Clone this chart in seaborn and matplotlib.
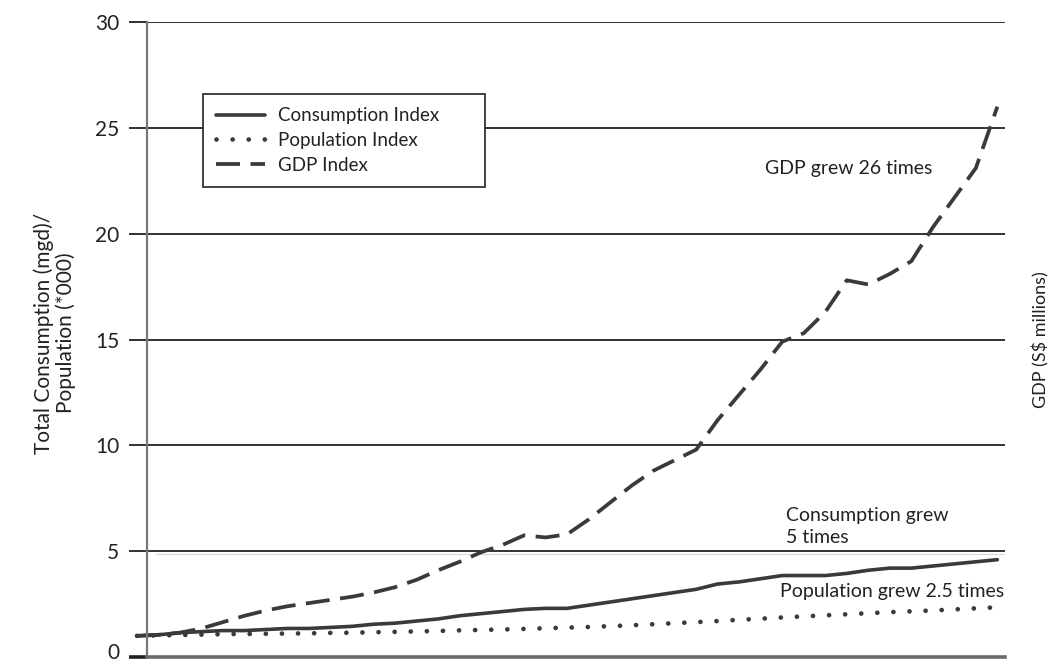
import matplotlib
matplotlib.use("Agg")
import matplotlib.pyplot as plt
from matplotlib.transforms import ScaledTranslation
import pandas
import seaborn as sns

YEARS = list(range(1965, 2006))

CONSUMPTION = [1.0, 1.05, 1.15, 1.2, 1.25, 1.25, 1.3, 1.35, 1.35, 1.4,
               1.45, 1.55, 1.6, 1.7, 1.8, 1.95, 2.05, 2.15, 2.25, 2.3,
               2.3, 2.45, 2.6, 2.75, 2.9, 3.05, 3.2, 3.45, 3.55, 3.7,
               3.85, 3.85, 3.85, 3.95, 4.1, 4.2, 4.2, 4.3, 4.4, 4.5, 4.6]

POPULATION = [1.0, 1.02, 1.04, 1.06, 1.08, 1.09, 1.10, 1.11, 1.12, 1.14,
              1.15, 1.17, 1.19, 1.21, 1.23, 1.26, 1.28, 1.30, 1.33, 1.36,
              1.39, 1.42, 1.46, 1.50, 1.55, 1.60, 1.65, 1.70, 1.76, 1.81,
              1.87, 1.92, 1.97, 2.02, 2.07, 2.12, 2.16, 2.20, 2.25, 2.30, 2.35]

GDP = [1.0, 1.05, 1.15, 1.35, 1.65, 1.95, 2.2, 2.4, 2.55, 2.7,
       2.85, 3.05, 3.3, 3.65, 4.1, 4.5, 4.95, 5.3, 5.75, 5.65,
       5.8, 6.5, 7.3, 8.1, 8.8, 9.3, 9.8, 11.2, 12.4, 13.6,
       14.9, 15.3, 16.3, 17.8, 17.6, 18.1, 18.7, 20.3, 21.7, 23.1, 26.0]

SERIES = {
    "Consumption Index": CONSUMPTION,
    "Population Index": POPULATION,
    "GDP Index": GDP,
}

STYLE = {
    "Consumption Index": dict(linestyle="-", linewidth=2.6),
    "Population Index": dict(linestyle=(0, (0.01, 3.4)), linewidth=3.4,
                             dash_capstyle="round"),
    "GDP Index": dict(linestyle=(0, (6.4, 2.8)), linewidth=2.7),
}

LINE_COLOR = "#3a3a3a"
TEXT_COLOR = "#222222"

sns.set_style("white")
plt.rcParams["font.family"] = ["Lato", "DejaVu Sans"]

fig = plt.figure(figsize=(10.6, 6.64), dpi=100)
ax = fig.add_axes([0.1387, 0.0105, 0.8097, 0.9563])

for name, values in SERIES.items():
    df = pandas.DataFrame({"year": YEARS, "value": values})
    sns.lineplot(x="year", y="value", data=df, ax=ax, color=LINE_COLOR,
                 label=name, clip_on=False, **STYLE[name])

# first year sits slightly left of the y axis, as in the original
ax.set_xlim(YEARS[0] + 0.465, YEARS[0] + 40.37)
ax.set_ylim(0, 30)
ax.set_yticks([0, 5, 10, 15, 20, 25, 30])
ax.set_xticks([])
ax.set_xlabel("")
ax.tick_params(axis="y", which="major", left=True, length=13, width=1.3,
               color=TEXT_COLOR, pad=7, labelsize=15, labelcolor=TEXT_COLOR)

ax.yaxis.grid(True, color=TEXT_COLOR, linewidth=1.3)
ax.set_axisbelow(True)

# faint scan artifact line just under the 5 gridline
ax.axhline(4.85, xmin=0.01, xmax=1.0, color="#d8d8d8", linewidth=0.8, zorder=0)

for side in ["top", "right"]:
    ax.spines[side].set_visible(False)
ax.spines["left"].set_color("#777777")
ax.spines["left"].set_linewidth(1.6)
ax.spines["bottom"].set_color("#6a6a6a")
ax.spines["bottom"].set_linewidth(2.6)
zero_tick = ax.yaxis.get_major_ticks()[0]
zero_tick.tick1line.set_color("#6a6a6a")
zero_tick.tick1line.set_markeredgewidth(2.6)
zero_tick.label1.set_transform(zero_tick.label1.get_transform()
                               + ScaledTranslation(0, 4 / 72, fig.dpi_scale_trans))

ax.set_ylabel("Total Consumption (mgd)/\nPopulation (*000)", fontsize=15,
              color=TEXT_COLOR, linespacing=1.05)
ax.yaxis.set_label_coords(-0.083, 0.51)
ax.text(1.041, 0.5, "GDP (S$ millions)", transform=ax.transAxes, rotation=90,
        ha="center", va="center", fontsize=13, color=TEXT_COLOR)

ax.text(0.72, 0.770, "GDP grew 26 times", transform=ax.transAxes,
        fontsize=14, color=TEXT_COLOR, va="center")
ax.text(0.745, 0.205, "Consumption grew\n5 times", transform=ax.transAxes,
        fontsize=14, color=TEXT_COLOR, va="center", linespacing=1.35)
ax.text(0.738, 0.103, "Population grew 2.5 times", transform=ax.transAxes,
        fontsize=14, color=TEXT_COLOR, va="center")

leg = ax.legend(loc="upper left", bbox_to_anchor=(0.0653, 0.7386, 0.3287, 0.148),
                mode="expand", frameon=True, fancybox=False, fontsize=13.5,
                handlelength=2.6, handletextpad=0.7, labelspacing=0.42,
                borderpad=0.7, borderaxespad=0)
leg.get_frame().set_edgecolor(TEXT_COLOR)
leg.get_frame().set_linewidth(1.2)
leg.get_frame().set_facecolor("white")
leg.get_frame().set_alpha(1.0)
for text in leg.get_texts():
    text.set_color(TEXT_COLOR)

fig.savefig("out.png", dpi=100)
